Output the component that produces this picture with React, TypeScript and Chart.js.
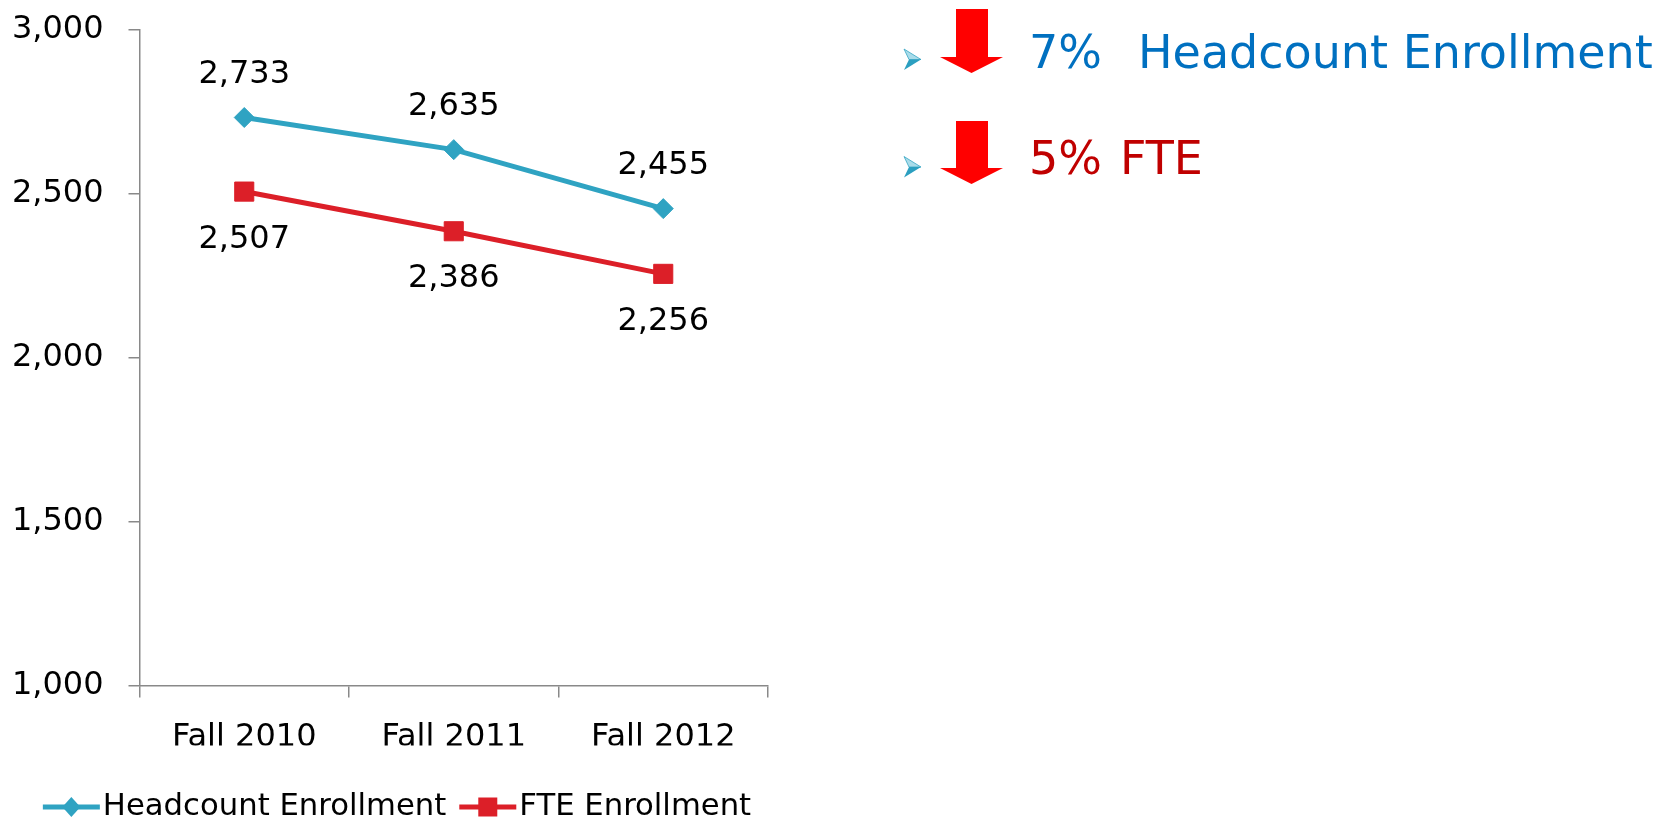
import React, { useEffect, useRef } from "react";
import { Chart, registerables } from "chart.js";

Chart.register(...registerables);

const FONT = "'DejaVu Sans', Verdana, sans-serif";

const categories = ["Fall 2010", "Fall 2011", "Fall 2012"];
const headcount = [2733, 2635, 2455];
const fte = [2507, 2386, 2256];
const seriesNames = ["Headcount Enrollment", "FTE Enrollment"];
const seriesColors = ["#2fa3c2", "#dc1f28"];
const seriesMarkers = ["rectRot", "rect"];
const yTicks = [1000, 1500, 2000, 2500, 3000];
const summaryPercents = ["7%", "5%"];
const summaryLabels = ["Headcount Enrollment", "FTE"];
const summaryColors = ["#0070c0", "#c00000"];

const fmt = (v: number) => v.toLocaleString("en-US");

function drawMarker(ctx: CanvasRenderingContext2D, style: string, x: number, y: number, color: string) {
  ctx.fillStyle = color;
  ctx.beginPath();
  if (style === "rectRot") {
    const r = 10;
    ctx.moveTo(x, y - r);
    ctx.lineTo(x + r * 0.9, y);
    ctx.lineTo(x, y + r);
    ctx.lineTo(x - r * 0.9, y);
    ctx.closePath();
  } else {
    const h = 9.5;
    ctx.rect(x - h, y - h, 2 * h, 2 * h);
  }
  ctx.fill();
}

const dataLabelPlugin = {
  id: "dataLabels",
  afterDatasetsDraw(chart: any) {
    const ctx = chart.ctx as CanvasRenderingContext2D;
    ctx.save();
    ctx.font = `32px ${FONT}`;
    ctx.fillStyle = "#000000";
    ctx.textAlign = "center";
    ctx.textBaseline = "alphabetic";
    chart.data.datasets.forEach((ds: any, di: number) => {
      const meta = chart.getDatasetMeta(di);
      meta.data.forEach((pt: any, i: number) => {
        const y = di === 0 ? pt.y - 35 : pt.y + 56;
        ctx.fillText(fmt(ds.data[i]), pt.x, y);
      });
    });
    ctx.restore();
  },
};

const legendPlugin = {
  id: "customLegend",
  afterDraw(chart: any) {
    const ctx = chart.ctx as CanvasRenderingContext2D;
    ctx.save();
    ctx.font = `30.7px ${FONT}`;
    const lineLen = 57;
    const textGap = 3;
    const itemGap = 13;
    const widths = chart.data.datasets.map(
      (ds: any) => lineLen + textGap + ctx.measureText(ds.label).width
    );
    const total = widths.reduce((a: number, b: number) => a + b, 0) + itemGap * (widths.length - 1);
    let x = 397 - total / 2;
    const yMid = 807;
    const baseline = 815;
    chart.data.datasets.forEach((ds: any, di: number) => {
      ctx.strokeStyle = ds.borderColor;
      ctx.lineWidth = 5;
      ctx.beginPath();
      ctx.moveTo(x, yMid);
      ctx.lineTo(x + lineLen, yMid);
      ctx.stroke();
      drawMarker(ctx, ds.pointStyle, x + lineLen / 2, yMid, ds.borderColor);
      ctx.fillStyle = "#000000";
      ctx.textAlign = "left";
      ctx.textBaseline = "alphabetic";
      ctx.fillText(ds.label, x + lineLen + textGap, baseline);
      x += widths[di] + itemGap;
    });
    ctx.restore();
  },
};

function ChartCanvas() {
  const ref = useRef<HTMLCanvasElement | null>(null);
  useEffect(() => {
    if (!ref.current) return;
    const seriesData = [headcount, fte];
    const chart = new Chart(ref.current, {
      type: "line",
      data: {
        labels: categories,
        datasets: seriesData.map((d, i) => ({
          label: seriesNames[i],
          data: d,
          borderColor: seriesColors[i],
          backgroundColor: seriesColors[i],
          borderWidth: 5,
          pointStyle: seriesMarkers[i] as any,
          pointRadius: i === 0 ? 10 : 13.5,
          pointBorderWidth: 1,
          pointBackgroundColor: seriesColors[i],
          pointBorderColor: seriesColors[i],
          tension: 0,
          fill: false,
        })),
      },
      options: {
        responsive: false,
        animation: false,
        events: [],
        layout: { padding: { left: 0, right: 32, top: 30, bottom: 74.5 } },
        plugins: {
          legend: { display: false },
          tooltip: { enabled: false },
        },
        scales: {
          x: {
            type: "category",
            offset: true,
            grid: {
              offset: true,
              drawOnChartArea: false,
              drawTicks: true,
              tickLength: 12,
              color: "#898989",
              lineWidth: 1.5,
            },
            border: { display: true, color: "#898989", width: 1.5 },
            ticks: {
              font: { family: FONT, size: 32 },
              color: "#000000",
              padding: 21,
              maxRotation: 0,
            },
            afterFit: (s: any) => {
              s.height = 60;
              s.paddingLeft = 0;
              s.paddingRight = 0;
            },
          },
          y: {
            min: yTicks[0],
            max: yTicks[yTicks.length - 1],
            afterBuildTicks: (s: any) => {
              s.ticks = yTicks.map((v) => ({ value: v }));
            },
            grid: {
              drawOnChartArea: false,
              drawTicks: true,
              tickLength: 11,
              color: "#898989",
              lineWidth: 1.5,
            },
            border: { display: true, color: "#898989", width: 1.5 },
            ticks: {
              font: { family: FONT, size: 32 },
              color: "#000000",
              padding: 25,
              labelOffset: 0,
              callback: (v: any) => fmt(Number(v)),
            },
            afterFit: (s: any) => {
              s.width = 139.5;
              s.paddingTop = 0;
              s.paddingBottom = 0;
            },
          },
        },
      },
      plugins: [dataLabelPlugin, legendPlugin],
    });
    return () => chart.destroy();
  }, []);
  return <canvas ref={ref} width={800} height={820} style={{ display: "block" }} />;
}

function Summary() {
  const rows = [
    { arrowTop: 9, headY: 57, tipY: 73, bulletY: 59.5, textTop: 29 },
    { arrowTop: 121, headY: 168, tipY: 184, bulletY: 167, textTop: 135 },
  ];
  const labelX = [1138, 1120];
  return (
    <>
      <svg
        width={1669}
        height={820}
        style={{ position: "absolute", left: 0, top: 0, pointerEvents: "none" }}
      >
        {rows.map((r, i) => (
          <g key={i}>
            <polygon
              points={`904,${r.bulletY - 10.5} 921,${r.bulletY} 909,${r.bulletY}`}
              fill="#a9dcea"
              stroke="#36a6c4"
              strokeWidth={0.8}
            />
            <polygon
              points={`909,${r.bulletY} 921,${r.bulletY} 904,${r.bulletY + 10.5}`}
              fill="#2b9fc0"
            />
            <polygon
              points={`956,${r.arrowTop} 988,${r.arrowTop} 988,${r.headY} 1003,${r.headY} 971.5,${r.tipY} 940,${r.headY} 956,${r.headY}`}
              fill="#ff0000"
            />
          </g>
        ))}
      </svg>
      {rows.map((r, i) => (
        <React.Fragment key={i}>
          <div
            style={{
              position: "absolute",
              left: 1029,
              top: r.textTop,
              fontFamily: FONT,
              fontSize: 46,
              lineHeight: "46px",
              color: summaryColors[i],
              whiteSpace: "nowrap",
            }}
          >
            {summaryPercents[i]}
          </div>
          <div
            style={{
              position: "absolute",
              left: labelX[i],
              top: r.textTop,
              fontFamily: FONT,
              fontSize: 46,
              lineHeight: "46px",
              color: summaryColors[i],
              whiteSpace: "nowrap",
            }}
          >
            {summaryLabels[i]}
          </div>
        </React.Fragment>
      ))}
    </>
  );
}

export default function App() {
  return (
    <div
      style={{
        position: "absolute",
        left: 0,
        top: 0,
        width: 1669,
        height: 820,
        background: "#ffffff",
        overflow: "hidden",
      }}
    >
      <div style={{ position: "absolute", left: 0, top: 0 }}>
        <ChartCanvas />
      </div>
      <Summary />
    </div>
  );
}
